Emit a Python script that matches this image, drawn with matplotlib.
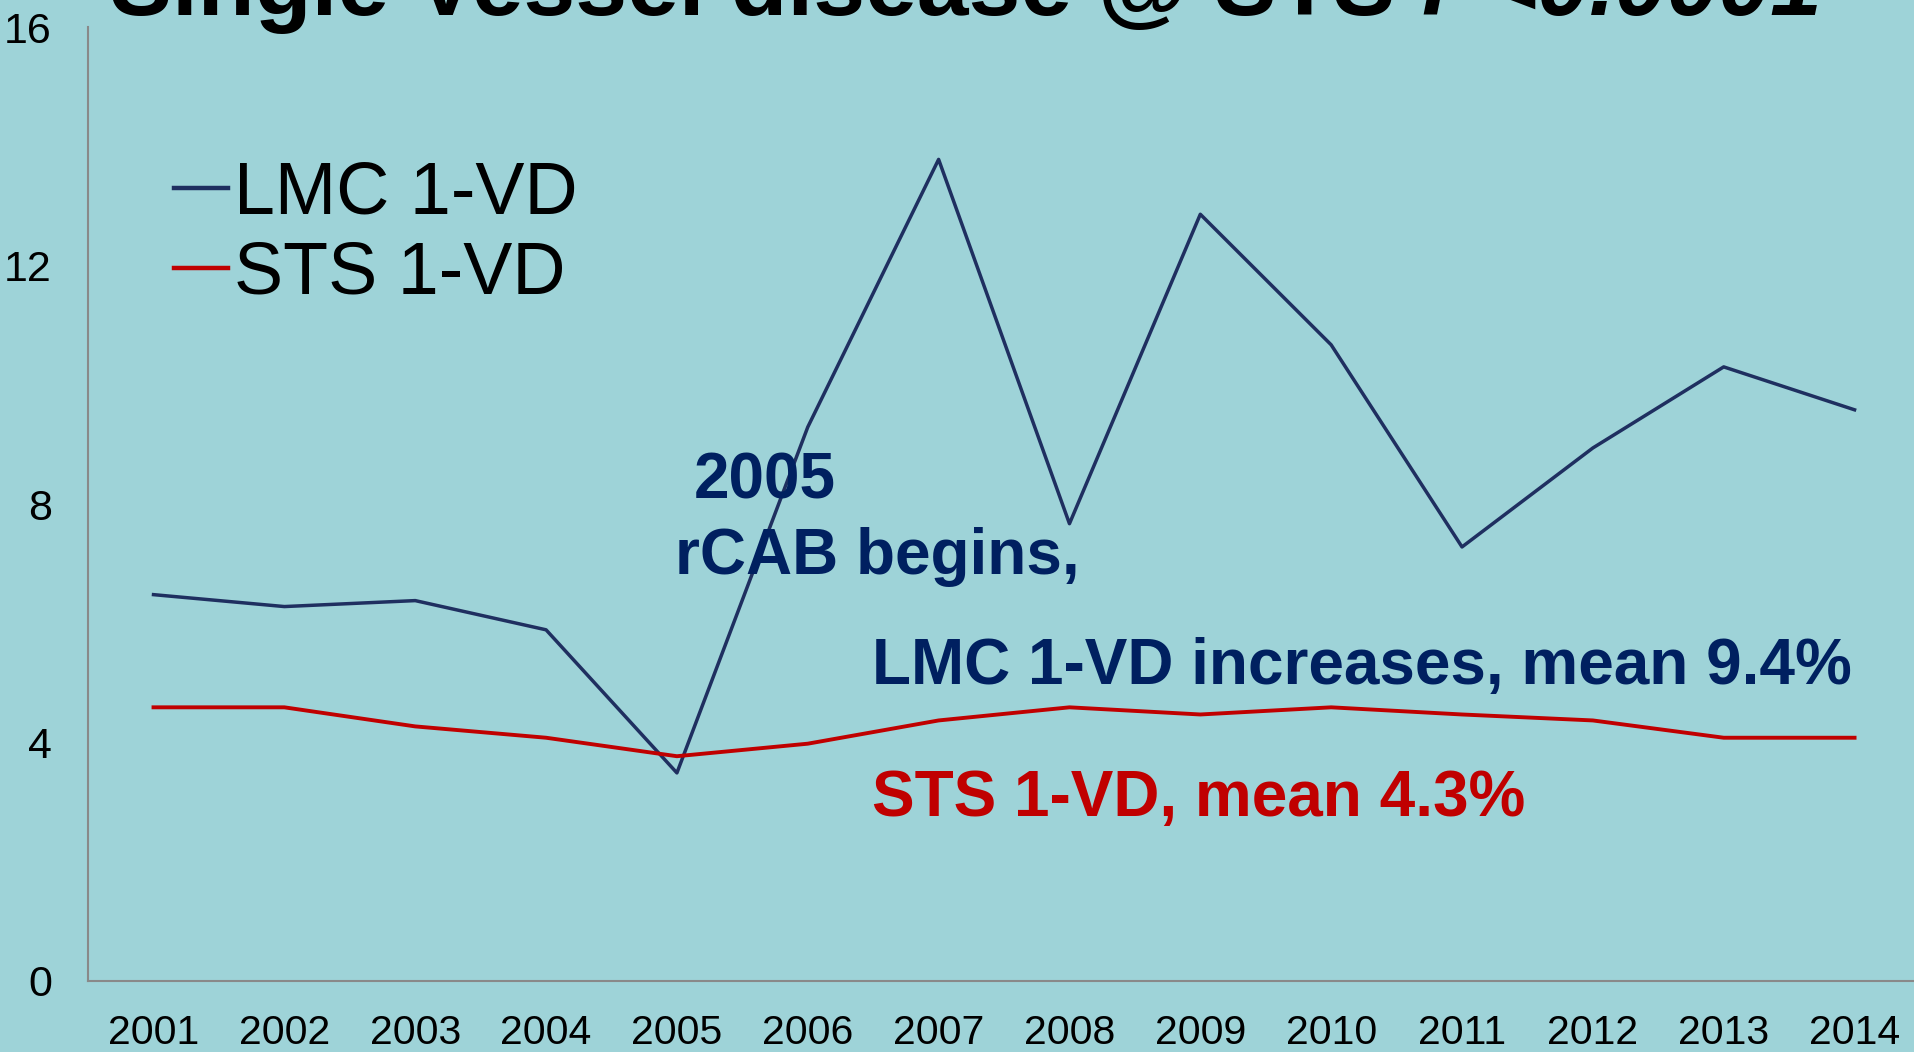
import matplotlib.pyplot as plt

# Data
years = ['2001', '2002', '2003', '2004', '2005', '2006', '2007',
         '2008', '2009', '2010', '2011', '2012', '2013', '2014']
lmc_1vd = [6.48, 6.28, 6.38, 5.89, 3.49, 9.29, 13.78,
           7.67, 12.86, 10.67, 7.28, 8.94, 10.30, 9.58]
sts_1vd = [4.59, 4.59, 4.27, 4.08, 3.77, 3.98, 4.37,
           4.59, 4.47, 4.59, 4.47, 4.37, 4.08, 4.08]
y_ticks = [0, 4, 8, 12, 16]

bg = '#9ed3d8'
navy_line = '#1f2f60'
navy_text = '#002060'
red = '#c00000'

plt.rcParams['font.family'] = ['Liberation Sans', 'DejaVu Sans']

fig = plt.figure(figsize=(19.15, 10.52), dpi=100, facecolor=bg)
ax = fig.add_axes([0.046, 0.0675, 0.9566, 0.9068])
ax.set_facecolor(bg)

x = range(len(years))
ax.plot(x, lmc_1vd, color=navy_line, lw=2.5, label='LMC 1-VD')
ax.plot(x, sts_1vd, color=red, lw=2.8, label='STS 1-VD')

ax.set_xlim(-0.5, len(years) - 0.5)
ax.set_ylim(0, 16)
ax.set_xticks(list(x))
ax.set_xticklabels(years)
ax.set_yticks(y_ticks)
ax.tick_params(axis='x', length=0, pad=24, labelsize=29.5)
ax.tick_params(axis='y', length=0, pad=26, labelsize=31)

for s in ['top', 'right']:
    ax.spines[s].set_visible(False)
for s in ['left', 'bottom']:
    ax.spines[s].set_color('#898989')
    ax.spines[s].set_linewidth(1.5)

leg = ax.legend(loc='upper left', bbox_to_anchor=(0.091, 0.848),
                bbox_transform=fig.transFigure, frameon=False,
                fontsize=53, handlelength=0.73, handletextpad=0.08,
                labelspacing=0.15, borderpad=0, borderaxespad=0)
for h in leg.get_lines():
    h.set_linewidth(3.2)

# annotations
fig.text(0.3624, 0.5263, '2005', color=navy_text, fontsize=46,
         fontweight='bold', va='baseline', ha='left')
fig.text(0.3527, 0.4544, 'rCAB begins,', color=navy_text, fontsize=46,
         fontweight='bold', va='baseline', ha='left')
fig.text(0.4553, 0.3498, 'LMC 1-VD increases, mean 9.4%', color=navy_text,
         fontsize=46, fontweight='bold', va='baseline', ha='left')
fig.text(0.4553, 0.2245, 'STS 1-VD, mean 4.3%', color=red,
         fontsize=46, fontweight='bold', va='baseline', ha='left')

# title, cut off at the top edge like the reference
t1 = fig.text(0.0575, 1 - 15 / 1052, 'Single Vessel disease @ STS ',
              fontsize=67, fontweight='bold', va='baseline', ha='left')
fig.canvas.draw()
bb = t1.get_window_extent()
fig.text(bb.x1 / fig.bbox.width, 1 - 15 / 1052, 'P<0.0001',
         fontsize=67, fontweight='bold', fontstyle='italic',
         va='baseline', ha='left')

fig.savefig('out.png', dpi=100, facecolor=bg)
